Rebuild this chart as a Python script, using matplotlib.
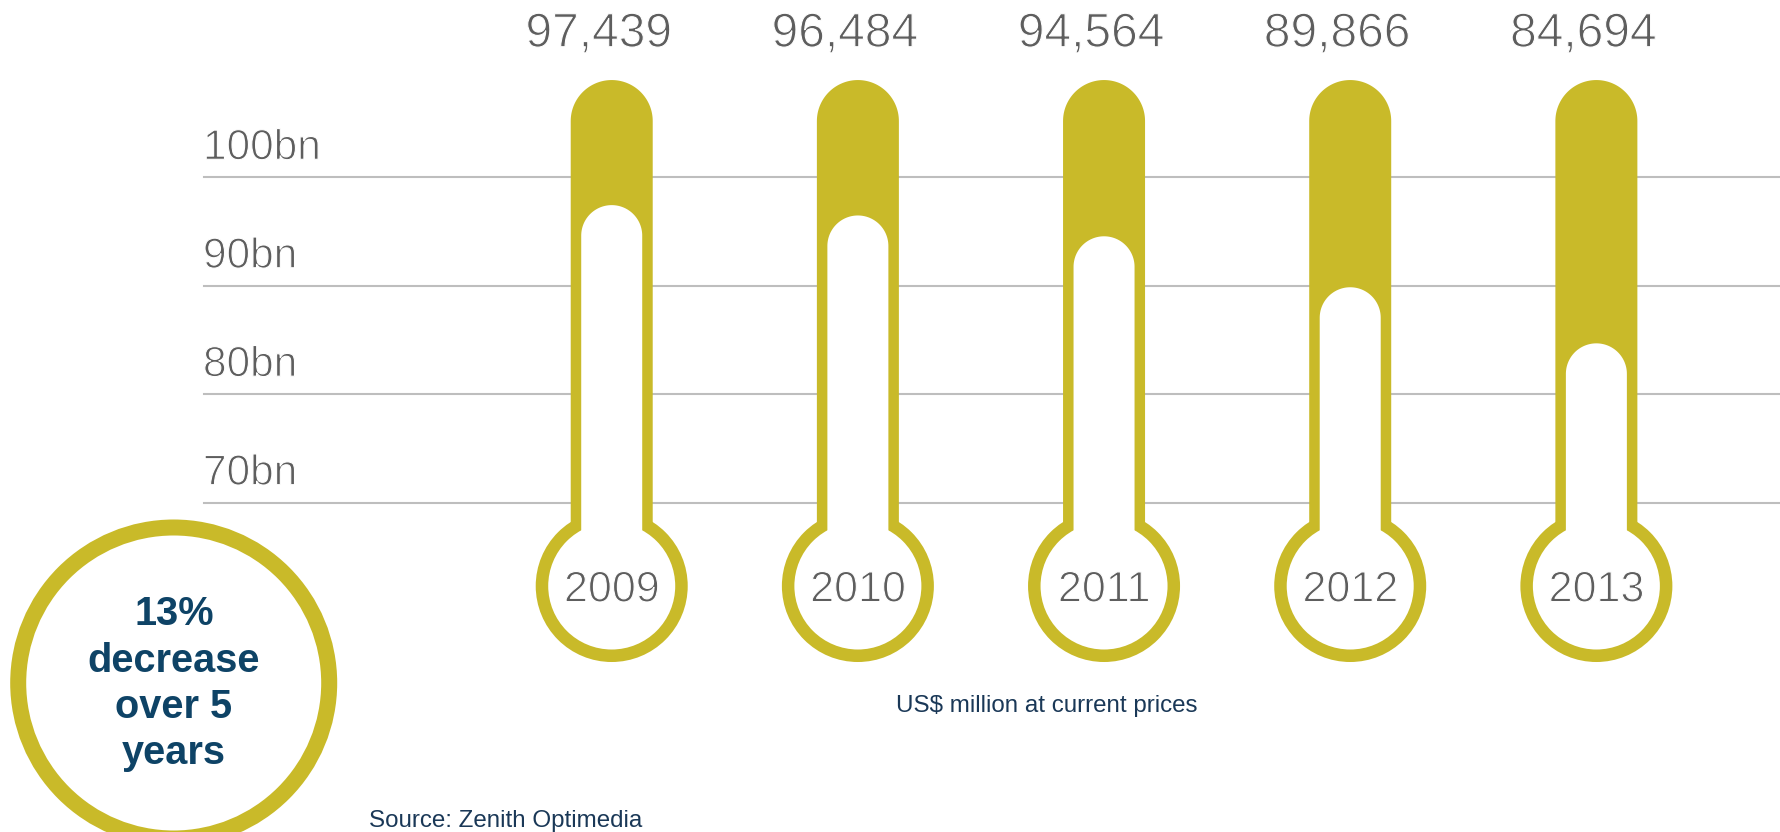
import numpy as np
import matplotlib
matplotlib.use("Agg")
import matplotlib.pyplot as plt
import matplotlib.patheffects as pe
from matplotlib.patches import Polygon, Ellipse, Circle

# Advertising spend, US$ million at current prices
years = ["2009", "2010", "2011", "2012", "2013"]
spend = [97439, 96484, 94564, 89866, 84694]

grid_levels = [70, 80, 90, 100]
grid_labels = ["70bn", "80bn", "90bn", "100bn"]

YELLOW = "#C9BA29"
GRID = "#BEBEBE"
GREY_TXT = "#5E5E5E"
NAVY = "#0E4366"
DARK_TXT = "#1A3857"
FONT = "Liberation Sans"
# a thin white outline gives the grey numerals a lighter stroke
LIGHT = [pe.Stroke(linewidth=0.8, foreground="white")]

W, H, DPI = 1781, 832, 100
fig = plt.figure(figsize=(W / DPI, H / DPI), dpi=DPI)
ax = fig.add_axes([0, 0, 1, 1])
ax.set_xlim(-2.485, 4.750)
ax.set_ylim(39.64, 116.35)
ax.axis("off")

# pixels per data unit, used to keep the rounded shapes circular
p0 = ax.transData.transform((0, 0))
p1 = ax.transData.transform((1, 1))
sx, sy = p1[0] - p0[0], p1[1] - p0[1]

TUBE_TOP = 108.97   # bn, top of the glass tube
BULB_Y = 62.32      # bn, centre of the bulb


def capsule(xc, top, bottom, half_w_px, **kw):
    rx, ry = half_w_px / sx, half_w_px / sy
    cy = top - ry
    t = np.linspace(0, np.pi, 80)
    arc = np.column_stack([xc + rx * np.cos(t), cy + ry * np.sin(t)])
    pts = np.vstack([[xc + rx, bottom], arc, [xc - rx, bottom]])
    return Polygon(pts, closed=True, **kw)


# horizontal reference lines with their labels
for lvl, lab in zip(grid_levels, grid_labels):
    ax.axhline(lvl, xmin=204 / W, xmax=1, color=GRID, lw=1.5, zorder=1)
    ax.annotate(lab, xy=(203 / W, lvl), xycoords=ax.get_yaxis_transform(),
                xytext=(0, 13), textcoords="offset points",
                ha="left", va="baseline", fontsize=30.5,
                family=FONT, color=GREY_TXT, path_effects=LIGHT)

# thermometers
for i, (yr, val) in enumerate(zip(years, spend)):
    v = val / 1000.0
    ax.add_patch(capsule(i, TUBE_TOP, BULB_Y, 41, fc=YELLOW, ec="none", zorder=2))
    ax.add_patch(Ellipse((i, BULB_Y), 2 * 76 / sx, 2 * 76 / sy,
                         fc=YELLOW, ec="none", zorder=2))
    ax.add_patch(Ellipse((i, BULB_Y), 2 * 63.5 / sx, 2 * 63.5 / sy,
                         fc="white", ec="none", zorder=3))
    ax.add_patch(capsule(i, v, BULB_Y, 30.5, fc="white", ec="none", zorder=3))

    ax.annotate(f"{val:,}", xy=(i, 1 - 46.7 / H), xycoords=ax.get_xaxis_transform(),
                xytext=(-9.4, 0), textcoords="offset points",
                ha="center", va="baseline", fontsize=34.5,
                family=FONT, color=GREY_TXT, path_effects=LIGHT)
    ax.annotate(yr, xy=(i, BULB_Y), xytext=(0, -11.2), textcoords="offset points",
                ha="center", va="baseline", fontsize=31,
                family=FONT, color=GREY_TXT, zorder=4, path_effects=LIGHT)

# unit note and source
fig.text(896 / W, 1 - 711.7 / H, "US$ million at current prices",
         ha="left", va="baseline", fontsize=17.4,
         family=FONT, color=DARK_TXT)
fig.text(369 / W, 1 - 826.5 / H, "Source: Zenith Optimedia",
         ha="left", va="baseline", fontsize=17.4,
         family=FONT, color=DARK_TXT)

# callout badge
badge = Circle((173.7 / DPI, (H - 683) / DPI), radius=155.5 / DPI,
               transform=fig.dpi_scale_trans, fc="white", ec=YELLOW,
               lw=16 * 0.72, zorder=5, clip_on=False)
ax.add_patch(badge)
for line, base in zip(["13%", "decrease", "over 5", "years"],
                      [625, 671.7, 718.3, 764.5]):
    fig.text(174 / W, 1 - base / H, line, ha="center", va="baseline",
             fontsize=28.6, fontweight="bold", family=FONT,
             color=NAVY, zorder=6)

fig.savefig("out.png", dpi=DPI, facecolor="white")
